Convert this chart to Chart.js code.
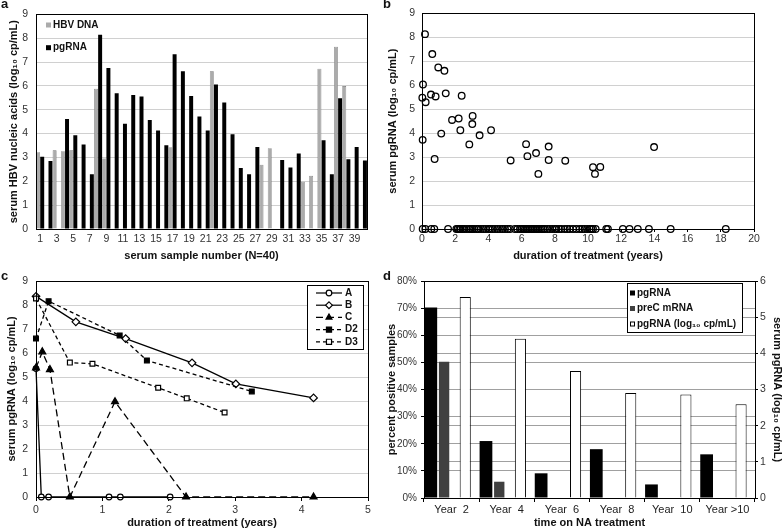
<!DOCTYPE html>
<html>
<head>
<meta charset="utf-8">
<script src="https://cdn.jsdelivr.net/npm/chart.js@4.4.0/dist/chart.umd.min.js"></script>
<style>
  body { margin: 0; background: #fff; width: 784px; height: 530px; position: relative; overflow: hidden; }
  canvas { position: absolute; }
  .tag { position: absolute; font: bold 13px Arial, 'Liberation Sans', sans-serif; line-height: 13px; color: #111; }
</style>
</head>
<body>
<canvas id="chartA" width="392" height="265" style="left:0;top:0"></canvas>
<canvas id="chartB" width="404" height="265" style="left:380px;top:0"></canvas>
<canvas id="chartC" width="392" height="265" style="left:0;top:265px"></canvas>
<canvas id="chartD" width="404" height="265" style="left:380px;top:265px"></canvas>
<div class="tag" style="left:1px;top:-3px">a</div>
<div class="tag" style="left:383px;top:-3px">b</div>
<div class="tag" style="left:1px;top:269px">c</div>
<div class="tag" style="left:383px;top:269px">d</div>
<script>
// ---- panel a : nucleic acids per serum sample ----
var sampleNumbers = ['1','2','3','4','5','6','7','8','9','10','11','12','13','14','15','16','17','18','19','20',
                     '21','22','23','24','25','26','27','28','29','30','31','32','33','34','35','36','37','38','39','40'];
var hbvDna = [3.22, null, 3.30, 3.26, 3.30, null, null, 5.88, 2.96, null,
              null, null, null, null, null, null, 3.43, null, null, null,
              null, 6.61, null, null, null, null, null, 2.69, 3.39, null,
              null, null, 1.98, 2.23, 6.72, null, 7.64, 5.99, null, null];
var pgRna = [3.03, 2.85, null, 4.61, 3.93, 3.54, 2.30, 8.14, 6.75, 5.69,
             4.41, 5.62, 5.55, 4.57, 4.13, 3.51, 7.33, 6.61, 5.58, 4.72,
             4.13, 6.06, 5.30, 3.97, 2.56, 2.30, 3.44, null, null, 2.89,
             2.58, 3.17, null, null, 3.72, 2.30, 5.48, 2.92, 3.44, 2.87];

// ---- panel b : pgRNA vs duration of treatment ----
var bYears  = [0.06, 0.02, 0.04, 0.18, 0.22, 0.62, 0.54, 0.82, 0.76, 0.98, 1.35, 1.43, 1.16, 1.81, 2.21, 2.39, 2.31,
               2.85, 3.03, 3.05, 3.47, 4.16, 5.34, 6.27, 6.35, 6.87, 7.01, 7.63, 7.63, 8.63, 10.30, 10.42, 10.74, 13.98];
var bLevels = [6.03, 5.48, 3.72, 8.13, 5.29, 7.30, 5.61, 5.53, 2.92, 6.74, 6.60, 5.66, 3.98, 4.55, 4.61, 5.56, 4.12,
               3.53, 4.38, 4.72, 3.91, 4.12, 2.86, 3.54, 3.04, 3.17, 2.30, 3.44, 2.88, 2.85, 2.58, 2.30, 2.59, 3.42];
// samples with undetectable pgRNA (plotted at 0)
var bZeroYears = [0.04, 0.20, 0.56, 0.74, 1.57, 2.07, 2.15, 2.25, 2.33, 2.45, 2.55, 2.70, 2.85, 2.95, 3.05, 3.15,
                  3.30, 3.40, 3.55, 3.70, 3.85, 4.00, 4.10, 4.25, 4.40, 4.55, 4.70, 4.85, 5.00, 5.15, 5.30, 5.60,
                  5.75, 5.90, 6.00, 6.10, 6.20, 6.30, 6.40, 6.50, 6.60, 6.70, 6.80, 6.90, 7.00, 7.10, 7.20, 7.30,
                  7.40, 7.55, 7.70, 7.85, 8.00, 8.10, 8.25, 8.40, 8.60, 8.75, 8.90, 9.10, 9.30, 9.50, 9.65, 9.80,
                  9.95, 10.10, 10.20, 10.30, 10.46, 11.10, 11.20, 12.10, 12.50, 13.00, 13.67, 14.98, 18.30];

// ---- panel c : patient time courses ----
var aYears  = [0, 0.08, 0.19, 1.10, 1.27, 2.02];
var aLevels = [5.35, 0, 0, 0, 0, 0];
var bPatYears  = [0, 0.60, 1.35, 2.35, 3.01, 4.18];
var bPatLevels = [8.36, 7.30, 6.60, 5.59, 4.71, 4.13];
var cYears  = [0, 0.095, 0.21, 0.51, 1.19, 2.26, 4.18];
var cLevels = [5.38, 6.05, 5.31, 0, 3.97, 0, 0];
var d2Years  = [0, 0.19, 1.26, 1.67, 3.25];
var d2Levels = [6.60, 8.16, 6.73, 5.69, 4.40];
var d3Years  = [0, 0.51, 0.85, 1.84, 2.27, 2.84];
var d3Levels = [8.27, 5.60, 5.55, 4.55, 4.11, 3.52];

// ---- panel d : by time on NA treatment ----
var dYears = ['Year  2', 'Year  4', 'Year  6', 'Year  8', 'Year  10', 'Year >10'];
var dPgPct = [70.2, 21, 9.1, 18, 5, 16.1];
var dPrecPct = [50.2, 6, null, null, null, null];
var dPgLog = [5.56, 4.40, 3.51, 2.90, 2.86, 2.59];

var FONT = "Arial, 'Liberation Sans', Helvetica, sans-serif";
Chart.defaults.font.family = FONT;
Chart.defaults.color = '#222';
Chart.defaults.animation = false;
Chart.defaults.plugins.legend.display = false;
Chart.defaults.plugins.tooltip.enabled = false;

function toPoints(xs, ys) {
  return xs.map(function (x, i) { return { x: x, y: ys[i] }; });
}

// black frame round the plot area
var boxPlugin = {
  id: 'plotBox',
  afterDraw: function (chart) {
    var a = chart.chartArea, ctx = chart.ctx;
    ctx.save();
    ctx.strokeStyle = '#000';
    ctx.lineWidth = 1;
    ctx.strokeRect(Math.round(a.left) + 0.5, Math.round(a.top) + 0.5,
                   Math.round(a.right) - Math.round(a.left), Math.round(a.bottom) - Math.round(a.top));
    ctx.restore();
  }
};

function ownLegend(draw) {
  return { id: 'ownLegend', afterDraw: function (chart) { var ctx = chart.ctx; ctx.save(); draw(chart, ctx); ctx.restore(); } };
}

function marker(ctx, style, x, y, r, fill) {
  ctx.beginPath();
  if (style === 'circle') {
    ctx.arc(x, y, r, 0, Math.PI * 2);
  } else if (style === 'rectRot') {
    ctx.moveTo(x, y - r); ctx.lineTo(x + r, y); ctx.lineTo(x, y + r); ctx.lineTo(x - r, y); ctx.closePath();
  } else if (style === 'triangle') {
    ctx.moveTo(x, y - r); ctx.lineTo(x + r * 0.87, y + r * 0.5); ctx.lineTo(x - r * 0.87, y + r * 0.5); ctx.closePath();
  } else {
    ctx.rect(x - r * 0.75, y - r * 0.75, r * 1.5, r * 1.5);
  }
  ctx.fillStyle = fill;
  ctx.fill();
  ctx.setLineDash([]);
  ctx.lineWidth = 1.2;
  ctx.strokeStyle = '#000';
  ctx.stroke();
}

var tickFont = { size: 10.5 };
var titleFont = { size: 11, weight: 'bold' };

// ================= a =================
new Chart(document.getElementById('chartA'), {
  type: 'bar',
  data: {
    labels: sampleNumbers,
    datasets: [
      { label: 'HBV DNA', data: hbvDna, backgroundColor: '#ababab', borderColor: '#6e6e6e', borderWidth: 0.6 },
      { label: 'pgRNA', data: pgRna, backgroundColor: '#000' }
    ]
  },
  options: {
    responsive: false,
    layout: { padding: { top: 12, right: 25, left: 0, bottom: 1 } },
    datasets: { bar: { categoryPercentage: 1, barPercentage: 0.96 } },
    scales: {
      x: {
        grid: { display: false, drawTicks: false },
        border: { display: false },
        ticks: {
          autoSkip: false, maxRotation: 0, padding: 4, font: tickFont, color: '#333',
          callback: function (v, i) { return i % 2 === 0 ? this.getLabelForValue(v) : ''; }
        },
        title: { display: true, text: 'serum sample number (N=40)', font: titleFont, color: '#111', padding: { top: 0, bottom: 1 } },
        afterFit: function (s) { s.height = 35; }
      },
      y: {
        min: 0, max: 9,
        ticks: { stepSize: 1, padding: 8, font: tickFont, color: '#333' },
        grid: { color: '#d0d0d0', drawTicks: false },
        border: { display: false },
        title: { display: true, text: 'serum HBV nucleic acids (log₁₀ cp/mL)', font: titleFont, color: '#111', padding: { top: 7, bottom: 0 } },
        afterFit: function (s) { s.width = 36; }
      }
    }
  },
  plugins: [boxPlugin, ownLegend(function (chart, ctx) {
    ctx.font = 'bold 10px ' + FONT;
    ctx.textBaseline = 'middle';
    chart.data.datasets.forEach(function (ds, i) {
      var y = 25 + i * 22.7;
      ctx.fillStyle = ds.backgroundColor;
      ctx.fillRect(46, y - 2.5, 5, 5);
      ctx.fillStyle = '#111';
      ctx.fillText(ds.label, 53, y);
    });
  })]
});

// ================= b =================
var openCircle = { pointStyle: 'circle', pointRadius: 3.3, pointBorderWidth: 1.3, pointBorderColor: '#000', pointBackgroundColor: 'rgba(255,255,255,0)', clip: false };
new Chart(document.getElementById('chartB'), {
  type: 'scatter',
  data: {
    datasets: [
      Object.assign({ data: toPoints(bYears, bLevels) }, openCircle),
      Object.assign({ data: bZeroYears.map(function (x) { return { x: x, y: 0 }; }) }, openCircle)
    ]
  },
  options: {
    responsive: false,
    layout: { padding: { top: 12, right: 30, left: 0, bottom: 1 } },
    scales: {
      x: {
        type: 'linear', min: 0, max: 20,
        ticks: { stepSize: 2, padding: 1, font: tickFont, color: '#333' },
        grid: { drawOnChartArea: false, tickLength: 3, color: '#000' },
        border: { display: false },
        title: { display: true, text: 'duration of treatment (years)', font: titleFont, color: '#111', padding: { top: 0, bottom: 1 } },
        afterFit: function (s) { s.height = 35; }
      },
      y: {
        min: 0, max: 9,
        ticks: { stepSize: 1, padding: 7, font: tickFont, color: '#333' },
        grid: { color: '#d0d0d0', drawTicks: false },
        border: { display: false },
        title: { display: true, text: 'serum pgRNA (log₁₀ cp/mL)', font: titleFont, color: '#111', padding: { top: 6, bottom: 0 } },
        afterFit: function (s) { s.width = 42; }
      }
    }
  },
  plugins: [boxPlugin]
});

// ================= c =================
function patient(label, xs, ys, style, fill, dash, radius) {
  return {
    label: label, data: toPoints(xs, ys), showLine: true, tension: 0, fill: false,
    borderColor: '#000', borderWidth: 1.3, borderDash: dash,
    pointStyle: style, pointRadius: radius, pointBorderWidth: 1.2,
    pointBorderColor: '#000', pointBackgroundColor: fill, clip: false
  };
}
new Chart(document.getElementById('chartC'), {
  type: 'scatter',
  data: {
    datasets: [
      Object.assign(patient('A', aYears, aLevels, 'circle', '#fff', [], 2.8), { order: 5 }),
      Object.assign(patient('B', bPatYears, bPatLevels, 'rectRot', '#fff', [], 3.8), { order: 4 }),
      Object.assign(patient('C', cYears, cLevels, 'triangle', '#000', [7, 4], 4), { order: 1 }),
      Object.assign(patient('D2', d2Years, d2Levels, 'rect', '#000', [4, 3], 3.4), { order: 2 }),
      Object.assign(patient('D3', d3Years, d3Levels, 'rect', '#fff', [4, 3], 3.4), { order: 3 })
    ]
  },
  options: {
    responsive: false,
    layout: { padding: { top: 16, right: 24, left: 0, bottom: 0 } },
    scales: {
      x: {
        type: 'linear', min: 0, max: 5,
        ticks: { stepSize: 1, padding: 3, font: tickFont, color: '#333' },
        grid: { drawOnChartArea: false, tickLength: 4, color: '#000' },
        border: { display: false },
        title: { display: true, text: 'duration of treatment (years)', font: titleFont, color: '#111', padding: { top: 0, bottom: 0 } },
        afterFit: function (s) { s.height = 33; }
      },
      y: {
        min: 0, max: 9,
        ticks: { stepSize: 1, padding: 8, font: tickFont, color: '#333' },
        grid: { color: '#d0d0d0', drawTicks: false },
        border: { display: false },
        title: { display: true, text: 'serum pgRNA (log₁₀ cp/mL)', font: titleFont, color: '#111', padding: { top: 5, bottom: 0 } },
        afterFit: function (s) { s.width = 36; }
      }
    }
  },
  plugins: [boxPlugin, ownLegend(function (chart, ctx) {
    ctx.fillStyle = '#fff';
    ctx.fillRect(307, 20, 56, 64);
    ctx.strokeStyle = '#000';
    ctx.lineWidth = 1;
    ctx.strokeRect(307.5, 20.5, 56, 64);
    ctx.font = 'bold 10px ' + FONT;
    ctx.textBaseline = 'middle';
    chart.data.datasets.forEach(function (ds, i) {
      var y = 28 + i * 12.2;
      ctx.setLineDash(ds.borderDash);
      ctx.lineWidth = 1.2;
      ctx.strokeStyle = '#000';
      ctx.beginPath(); ctx.moveTo(316, y); ctx.lineTo(342, y); ctx.stroke();
      marker(ctx, ds.pointStyle, 329, y, Math.min(ds.pointRadius, 3.4), ds.pointBackgroundColor);
      ctx.fillStyle = '#111';
      ctx.fillText(ds.label, 345, y);
    });
  })]
});

// ================= d =================
// four slots per year (third left empty); each series gets its own
// categoryPercentage so the bars land where the original cluster puts them
new Chart(document.getElementById('chartD'), {
  type: 'bar',
  data: {
    labels: dYears,
    datasets: [
      { label: 'pgRNA', data: dPgPct, backgroundColor: '#000', yAxisID: 'y', categoryPercentage: 1.005, barPercentage: 0.92 },
      { label: 'preC mRNA', data: dPrecPct, backgroundColor: '#404040', yAxisID: 'y', categoryPercentage: 1.087, barPercentage: 0.69 },
      { label: '', data: [], yAxisID: 'y' },
      { label: 'pgRNA (log₁₀ cp/mL)', data: dPgLog, backgroundColor: '#fff', borderColor: '#000', borderWidth: 1,
        yAxisID: 'y1', categoryPercentage: 0.66, barPercentage: 1.22 }
    ]
  },
  options: {
    responsive: false,
    layout: { padding: { top: 16, right: 0, left: 0, bottom: 0 } },
    scales: {
      x: {
        offset: true,
        ticks: { padding: 1, font: { size: 11 }, color: '#222' },
        grid: { drawOnChartArea: false, tickLength: 4, color: '#000', offset: true },
        border: { display: false },
        title: { display: true, text: 'time on NA treatment', font: titleFont, color: '#111', padding: { top: 0, bottom: 0 } },
        afterFit: function (s) { s.height = 32; }
      },
      y: {
        position: 'left', min: 0, max: 80,
        ticks: { stepSize: 10, padding: 4, font: { size: 10 }, color: '#333', callback: function (v) { return v + '%'; } },
        grid: { color: '#a0a0a0', tickColor: '#000', tickLength: 3 },
        border: { display: false },
        title: { display: true, text: 'percent positive samples', font: titleFont, color: '#111', padding: { top: 5, bottom: 0 } },
        afterFit: function (s) { s.width = 44; }
      },
      y1: {
        position: 'right', min: 0, max: 6,
        ticks: { stepSize: 1, padding: 2, font: tickFont, color: '#333' },
        grid: { color: '#a0a0a0', tickColor: '#000', tickLength: 3 },
        border: { display: false },
        title: { display: true, text: 'serum pgRNA (log₁₀ cp/mL)', font: titleFont, color: '#111', padding: { top: 0, bottom: 0 } },
        afterFit: function (s) { s.width = 29; }
      }
    }
  },
  plugins: [boxPlugin, ownLegend(function (chart, ctx) {
    ctx.fillStyle = '#fff';
    ctx.fillRect(247, 18, 115, 49);
    ctx.strokeStyle = '#000';
    ctx.lineWidth = 1;
    ctx.strokeRect(247.5, 18.5, 115, 49);
    ctx.font = 'bold 10px ' + FONT;
    ctx.textBaseline = 'middle';
    var shown = chart.data.datasets.filter(function (ds) { return ds.label; });
    shown.forEach(function (ds, i) {
      var y = 28 + i * 15.5;
      ctx.fillStyle = ds.backgroundColor;
      ctx.fillRect(250, y - 2.5, 5, 5);
      if (ds.borderColor) { ctx.strokeStyle = '#000'; ctx.strokeRect(250.5, y - 2, 4, 4); }
      ctx.fillStyle = '#111';
      ctx.fillText(ds.label, 257, y);
    });
  })]
});
</script>
</body>
</html>
